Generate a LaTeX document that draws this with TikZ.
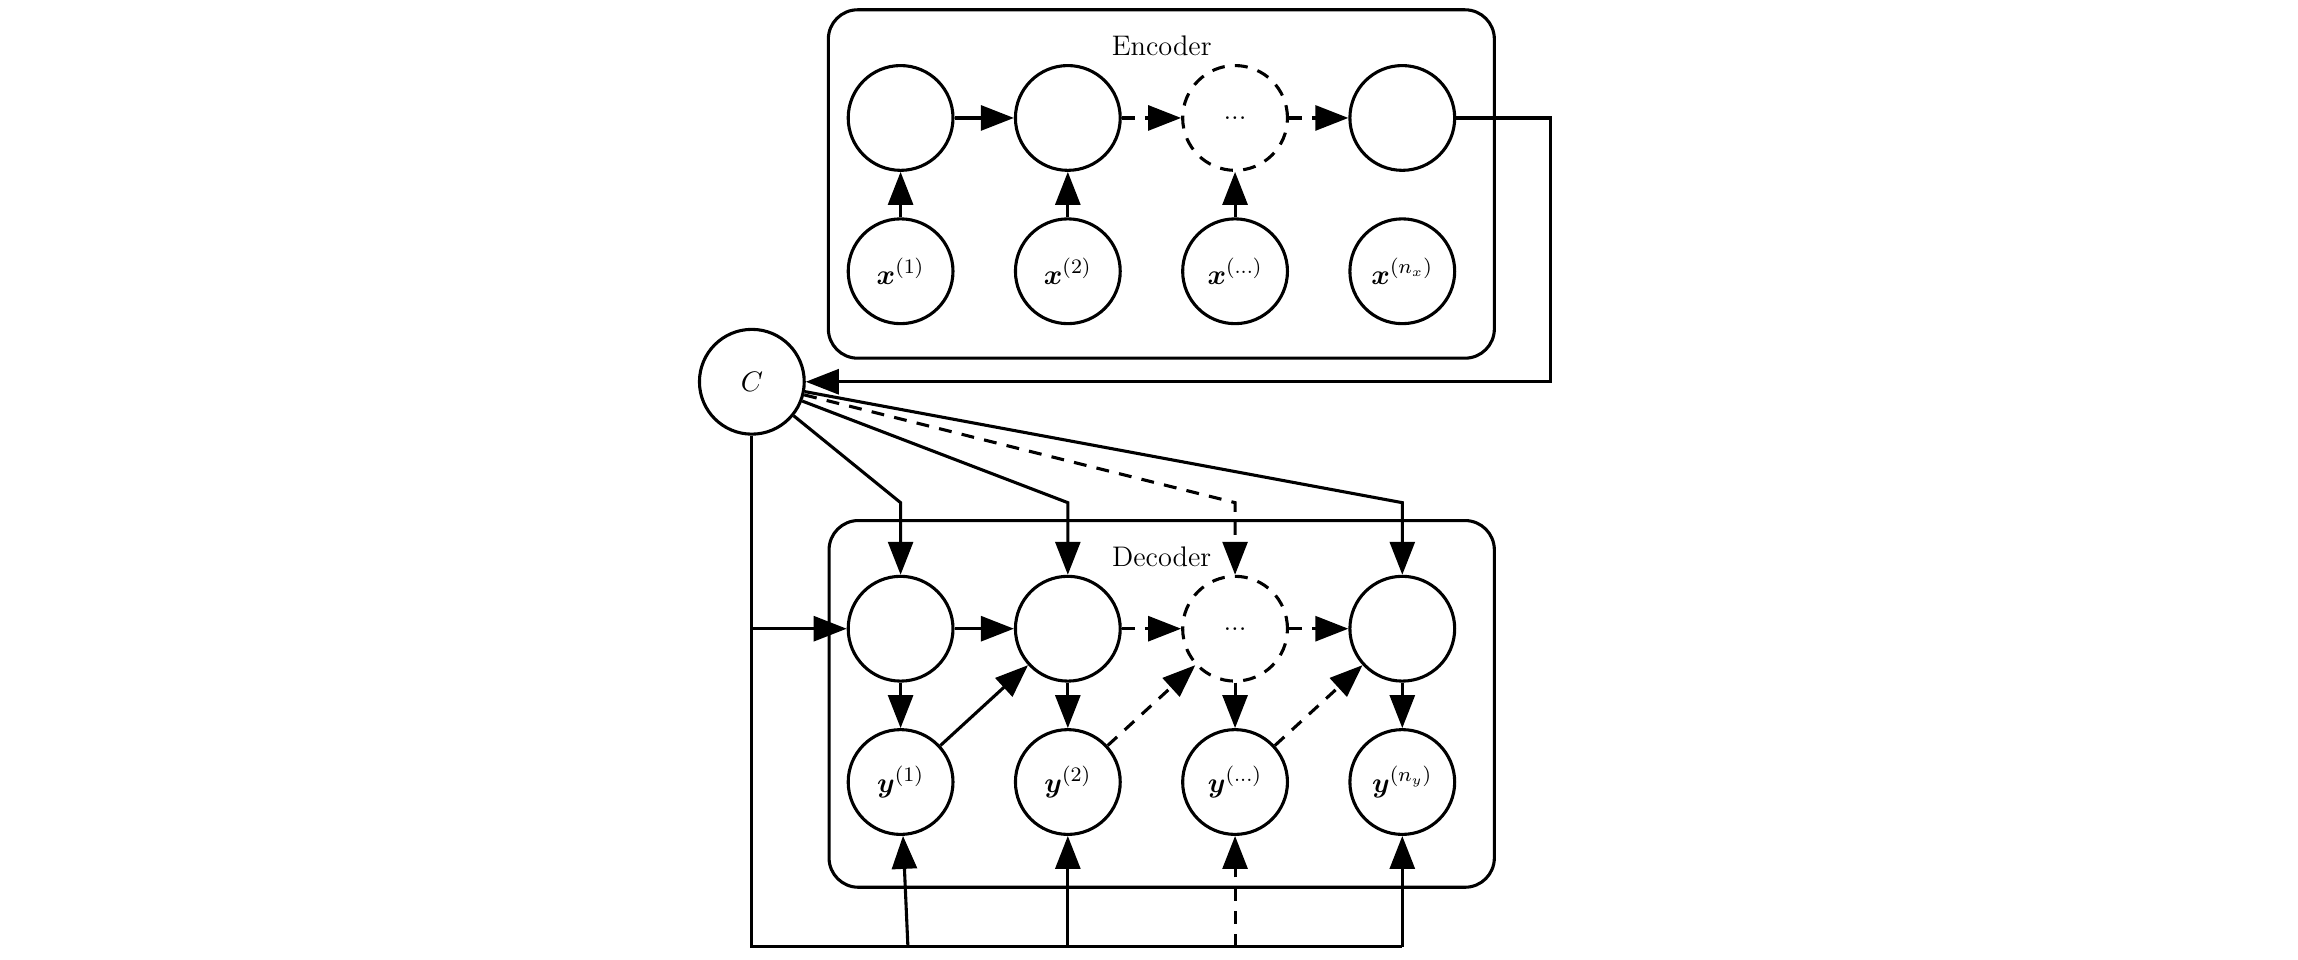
\documentclass[tikz,border=0pt]{standalone}
\usepackage{amsmath,amssymb}
\usepackage{tikz}
\usetikzlibrary{arrows.meta,calc,positioning}

\begin{document}
\begin{tikzpicture}[
            >={Triangle[length=4.5mm,width=3.4mm]},
            font=\fontsize{11}{13}\selectfont,
            state_node/.style={
                circle, draw, line width=1.2pt,
                minimum size=1.43cm, inner sep=0pt
            },
            dashed_line/.style={dash pattern=on 5pt off 4pt},
            panel_box/.style={draw, line width=1.2pt, rounded corners=0.4cm},
            line_style/.style={line width=1.2pt},
            arrow_style/.style={->, line width=1.2pt}
        ]
        \useasboundingbox (0,0) rectangle (31.36,13.09);

        % Encoder states and inputs
        \node[state_node] (e1) at (12.29,11.48) {};
        \node[state_node, right=0.81cm of e1] (e2) {};
        \node[state_node, dashed_line, right=0.81cm of e2] (e3) {...};
        \node[state_node, right=0.81cm of e3] (e4) {};
        \node[state_node, below=0.62cm of e1] (x1) {$\boldsymbol{x}^{(1)}$};
        \node[state_node, below=0.62cm of e2] (x2) {$\boldsymbol{x}^{(2)}$};
        \node[state_node, below=0.62cm of e3] (x3) {$\boldsymbol{x}^{(...)}$};
        \node[state_node, below=0.62cm of e4] (x4) {$\boldsymbol{x}^{(n_x)}$};
        \draw[panel_box] ([shift={(-0.25,-0.45)}]x1.west |- x1.south) rectangle ([shift={(0.52,0.74)}]e4.east |- e4.north);
        \node (enc_label) at ($(e1)!0.5!(e4) + (0.14,0.99)$) {Encoder};

        % Context
        \node[state_node] (c) at (10.26,7.88) {$C$};

        % Decoder states and outputs
        \node[state_node] (d1) at (12.29,4.51) {};
        \node[state_node, right=0.81cm of d1] (d2) {};
        \node[state_node, dashed_line, right=0.81cm of d2] (d3) {...};
        \node[state_node, right=0.81cm of d3] (d4) {};
        \node[state_node, below=0.62cm of d1] (y1) {$\boldsymbol{y}^{(1)}$};
        \node[state_node, below=0.62cm of d2] (y2) {$\boldsymbol{y}^{(2)}$};
        \node[state_node, below=0.62cm of d3] (y3) {$\boldsymbol{y}^{(...)}$};
        \node[state_node, below=0.62cm of d4] (y4) {$\boldsymbol{y}^{(n_y)}$};
        \draw[panel_box] ([shift={(-0.24,-0.7)}]y1.west |- y1.south) rectangle ([shift={(0.52,0.74)}]d4.east |- d4.north);
        \node (dec_label) at ($(d1)!0.5!(d4) + (0.14,0.98)$) {Decoder};

        \coordinate (c_top) at ($(d1) + (0,1.72)$);
        \coordinate (c_bot) at ($(c |- y1) + (0,-2.25)$);

        % Encoder arrows
        \draw[arrow_style] (e1) -- (e2);
        \draw[arrow_style, dashed_line] (e2) -- (e3);
        \draw[arrow_style, dashed_line] (e3) -- (e4);
        \draw[arrow_style] (x1) -- (e1);
        \draw[arrow_style] (x2) -- (e2);
        \draw[arrow_style] (x3) -- (e3);
        \draw[arrow_style] (e4) -- ++(2.02,0) |- (c);

        % Context to decoder
        \draw[arrow_style] (c) -- (c_top) -- (d1);
        \draw[arrow_style] (c) -- (c_top -| d2) -- (d2);
        \draw[arrow_style, dashed_line] (c) -- (c_top -| d3) -- (d3);
        \draw[arrow_style] (c) -- (c_top -| d4) -- (d4);
        \draw[arrow_style] (c) |- (d1);
        \draw[line_style] (c) -- (c_bot) -- (c_bot -| y4);
        \draw[arrow_style] ($(c_bot -| y1) + (0.1,0)$) -- (y1);
        \draw[arrow_style] (c_bot -| y2) -- (y2);
        \draw[arrow_style, dashed_line] (c_bot -| y3) -- (y3);
        \draw[arrow_style] (c_bot -| y4) -- (y4);

        % Decoder arrows
        \draw[arrow_style] (d1) -- (d2);
        \draw[arrow_style, dashed_line] (d2) -- (d3);
        \draw[arrow_style, dashed_line] (d3) -- (d4);
        \draw[arrow_style] (d1) -- (y1);
        \draw[arrow_style] (d2) -- (y2);
        \draw[arrow_style] (d3) -- (y3);
        \draw[arrow_style] (d4) -- (y4);
        \draw[arrow_style] (y1) -- (d2);
        \draw[arrow_style, dashed_line] (y2) -- (d3);
        \draw[arrow_style, dashed_line] (y3) -- (d4);
\end{tikzpicture}
\end{document}
